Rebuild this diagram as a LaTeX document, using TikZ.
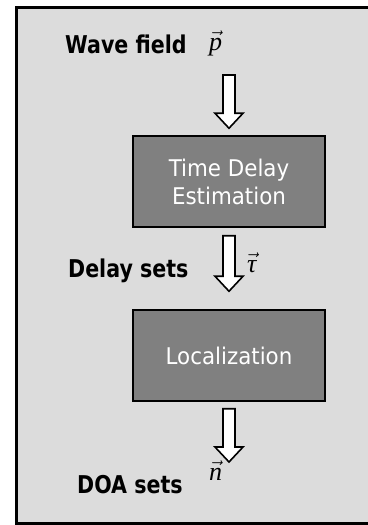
\documentclass[tikz,border=0pt]{standalone}
\usepackage{fontspec}
\setmainfont{DejaVu Sans}
\newfontfamily\labelfont[FakeStretch=0.84]{DejaVu Sans}
\newfontfamily\stagefont[FakeStretch=0.93]{DejaVu Sans}
\newfontfamily\symserif{Liberation Serif}
\usetikzlibrary{calc}
\definecolor{panelgray}{RGB}{220,220,220}
\definecolor{stagegray}{RGB}{128,128,128}
\tikzset{
  x=1pt, y=-1pt,
  panel/.style={draw=black, line width=3pt, fill=panelgray},
  stagebox/.style={draw=black, line width=1.5pt, fill=stagegray, text=white,
    minimum width=192pt, minimum height=91pt, align=center, inner sep=0pt,
    font=\stagefont\fontsize{23}{28}\selectfont},
  sigtext/.style={inner sep=0pt, anchor=base west,
    font=\labelfont\bfseries\fontsize{24.5}{28}\selectfont},
  sigsym/.style={inner sep=0pt, anchor=base west, font=\fontsize{26}{30}\selectfont},
}
\tikzset{flowarrow/.style={draw=black, line width=1.6pt, fill=white, line join=miter}}
% vector symbol: serif italic letter with a vector arrow on top
\newcommand{\vecsym}[1]{$\vec{\mbox{\symserif\itshape #1}}$}
% hollow block arrow from #1 (tail) to #2 (tip)
\newcommand{\blockarrow}[2]{%
  \draw[flowarrow]
    ($(#1)+(-6,0)$) -- ($(#1)+(6,0)$) -- ($(#2)+(6,-15)$) -- ($(#2)+(14,-15)$)
    -- (#2) -- ($(#2)+(-14,-15)$) -- ($(#2)+(-6,-15)$) -- cycle;}
\begin{document}
\begin{tikzpicture}
\useasboundingbox (0,0) rectangle (367,525);
\draw[panel] (16.5,7.5) rectangle (372,523);

% processing stages
\node[stagebox] (tde) at (229,181.5) {Time Delay\\Estimation};
\node[stagebox] (loc) at (229,355.5) {Localization};

% signals between the stages
\node[sigtext] (wave) at (65,53) {Wave field};
\node[sigsym] (p) at (209,50) {\vecsym{p}};
\node[sigtext] (delay) at (68,277) {Delay sets};
\node[sigsym] (tau) at (247,272) {\vecsym{τ}};
\node[sigsym] (n) at (209,480) {\vecsym{n}};
\node[sigtext] (doa) at (77,493) {DOA sets};

% arrow end points
\coordinate (a1s) at (229,75);
\coordinate (a1t) at ($(tde.north)+(0,-7)$);
\coordinate (a2s) at ($(tde.south)+(0,8)$);
\coordinate (a2t) at ($(loc.north)+(0,-18)$);
\coordinate (a3s) at ($(loc.south)+(0,7)$);
\coordinate (a3t) at (229,462);

\blockarrow{a1s}{a1t}
\blockarrow{a2s}{a2t}
\blockarrow{a3s}{a3t}
\end{tikzpicture}
\end{document}
